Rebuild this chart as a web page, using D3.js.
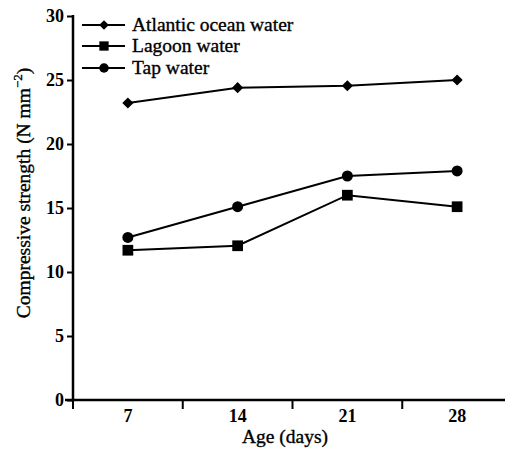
<!DOCTYPE html>
<html>
<head>
<meta charset="utf-8">
<script src="https://cdn.jsdelivr.net/npm/d3@7"></script>
<style>
  body { margin: 0; background: #fff; }
  svg text { font-family: "Liberation Serif", "Times New Roman", serif; fill: #000; }
</style>
</head>
<body>
<svg id="chart" width="505" height="451"></svg>
<script>
var ages = ['7', '14', '21', '28'];
var atlantic = [23.2, 24.4, 24.55, 25.0];
var lagoon = [11.7, 12.05, 16.0, 15.1];
var tap = [12.7, 15.1, 17.5, 17.9];
var yTicks = [0, 5, 10, 15, 20, 25, 30];

// diamond = square turned 45 degrees
var series = [
    {name: 'Atlantic ocean water', values: atlantic, symbol: d3.symbolSquare, rot: 45, size: 62},
    {name: 'Lagoon water', values: lagoon, symbol: d3.symbolSquare, rot: 0, size: 115},
    {name: 'Tap water', values: tap, symbol: d3.symbolCircle, rot: 0, size: 95}
];

var svg = d3.select('#chart');
var padLeft = 73, padBottom = 400, padTop = 16, padRight = 512;

var x = d3.scaleBand().domain(ages).range([padLeft, padRight]).padding(0);
var y = d3.scaleLinear().domain([0, 30]).range([padBottom, padTop]);

// y axis
var yAxis = svg.append('g')
    .attr('transform', 'translate(' + padLeft + ',0)')
    .call(d3.axisLeft(y).tickValues(yTicks).tickSize(6).tickPadding(3));
yAxis.select('.domain').attr('stroke-width', 2.5).attr('d', 'M0,' + padBottom + 'V' + (padTop - 1));
yAxis.selectAll('.tick line').attr('stroke-width', 2);
yAxis.selectAll('.tick text').attr('font-size', 18).attr('font-weight', 'bold');

// x axis: labels at band centres, ticks at band edges
var xAxis = svg.append('g')
    .attr('transform', 'translate(0,' + padBottom + ')')
    .call(d3.axisBottom(x).tickSize(0).tickPadding(9));
xAxis.select('.domain').attr('stroke-width', 2.5).attr('d', 'M' + (padLeft - 8) + ',0H' + padRight);
xAxis.selectAll('.tick text').attr('font-size', 18).attr('font-weight', 'bold');
xAxis.selectAll('.edge').data(ages).enter().append('line')
    .attr('x1', function(d) { return x(d); })
    .attr('x2', function(d) { return x(d); })
    .attr('y1', 0).attr('y2', 9)
    .attr('stroke', '#000').attr('stroke-width', 2);

// titles
svg.append('text')
    .attr('x', 285).attr('y', 443)
    .attr('text-anchor', 'middle')
    .attr('font-size', 19.5)
    .attr('stroke', '#000').attr('stroke-width', 0.35)
    .text('Age (days)');

var yt = svg.append('text')
    .attr('transform', 'translate(30,193) rotate(-90)')
    .attr('text-anchor', 'middle')
    .attr('font-size', 19.5)
    .attr('stroke', '#000').attr('stroke-width', 0.35);
yt.append('tspan').text('Compressive strength (N mm');
yt.append('tspan').attr('dy', -8).attr('font-size', 13).text('\u22122');
yt.append('tspan').attr('dy', 8).text(')');

// lines and markers
var line = d3.line()
    .x(function(d, i) { return x(ages[i]) + x.bandwidth() / 2; })
    .y(function(d) { return y(d); });

series.forEach(function(s) {
    svg.append('path')
        .datum(s.values)
        .attr('d', line)
        .attr('fill', 'none')
        .attr('stroke', '#000')
        .attr('stroke-width', 2);
    svg.selectAll(null).data(s.values).enter().append('path')
        .attr('d', d3.symbol().type(s.symbol).size(s.size))
        .attr('transform', function(d, i) {
            return 'translate(' + (x(ages[i]) + x.bandwidth() / 2) + ',' + y(d) + ') rotate(' + s.rot + ')';
        })
        .attr('fill', '#000');
});

// legend
var legend = svg.selectAll('.legend').data(series).enter().append('g')
    .attr('transform', function(d, i) { return 'translate(82,' + [25, 46, 68][i] + ')'; });
legend.append('line')
    .attr('x1', 0).attr('x2', 43).attr('y1', 0).attr('y2', 0)
    .attr('stroke', '#000').attr('stroke-width', 2);
legend.append('path')
    .attr('d', function(d) { return d3.symbol().type(d.symbol).size(d.size * 0.75)(); })
    .attr('transform', function(d) { return 'translate(22,0) rotate(' + d.rot + ')'; })
    .attr('fill', '#000');
legend.append('text')
    .attr('x', 50).attr('y', 6)
    .attr('font-size', 19.5)
    .attr('stroke', '#000').attr('stroke-width', 0.35)
    .text(function(d) { return d.name; });
</script>
</body>
</html>
